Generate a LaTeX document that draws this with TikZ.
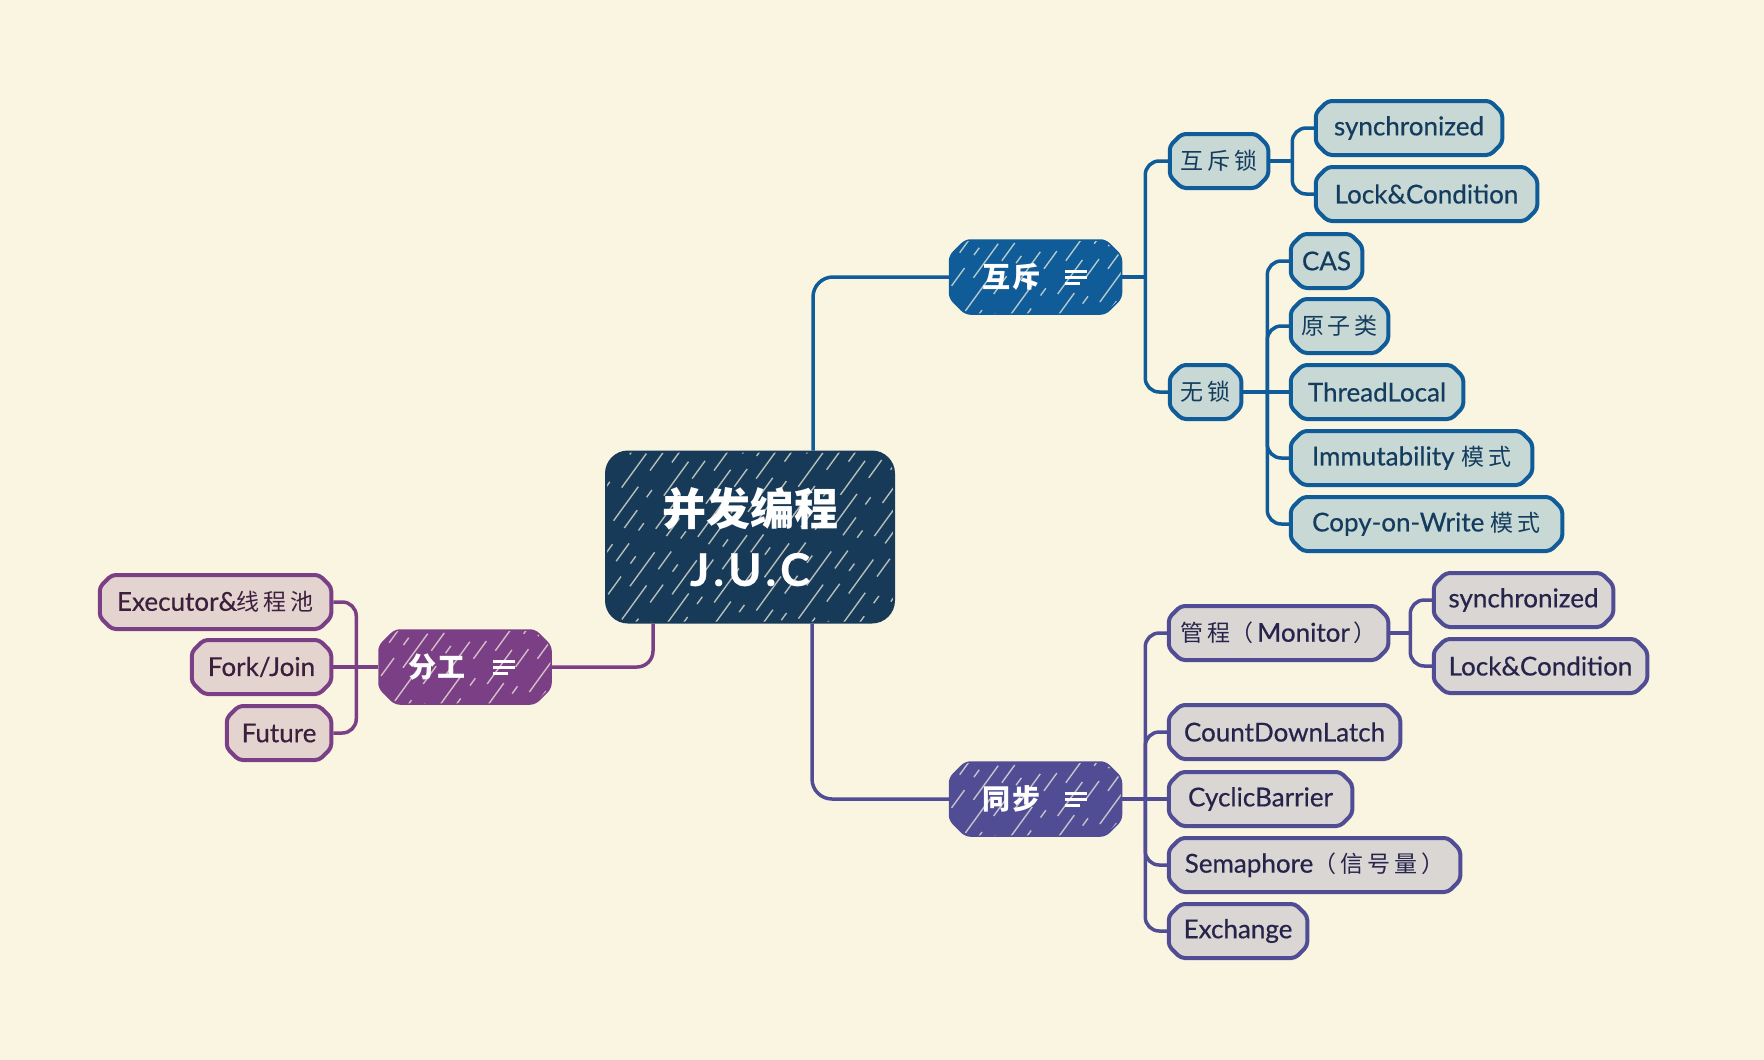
\documentclass[tikz,border=0pt]{standalone}
\usepackage{fontspec}
\setmainfont{Lato}[FakeBold=0.5]
\newfontfamily\cjk{Noto Sans CJK SC}
\usetikzlibrary{shapes.misc,calc}
\definecolor{bg}{HTML}{FAF5E1}
\definecolor{navy}{HTML}{163A57}
\definecolor{bblue}{HTML}{0F5C98}
\definecolor{bfill}{HTML}{C8D9D5}
\definecolor{btext}{HTML}{143C5E}
\definecolor{ind}{HTML}{504D95}
\definecolor{ifill}{HTML}{D9D6D3}
\definecolor{itext}{HTML}{27244C}
\definecolor{pur}{HTML}{7B3F85}
\definecolor{pfill}{HTML}{E3D4D0}
\definecolor{ptext}{HTML}{3C1F3C}
\newcommand\zh[1]{{\cjk\fontsize{23}{26}\selectfont #1}}
\newcommand\ls{\hspace{4pt}}
\newcommand\tls{\hspace{2pt}}
\tikzset{
  hatch/.style={path picture={
    \foreach \k in {0,...,30}{
      \pgfmathsetmacro\ph{mod(\k*41,113)}
      \draw[line width=1.4pt, bg, opacity=.7,
        dash pattern=on 22pt off 16pt on 9pt off 34pt on 42pt off 20pt, dash phase=\ph pt]
        ($(path picture bounding box.south west)+(\k*16pt-150pt,-5pt)$) -- ++(54:260pt);
    }}},
  leaf/.style={chamfered rectangle, chamfered rectangle xsep=6pt, chamfered rectangle ysep=6pt,
    line width=4pt, minimum height=54, inner sep=0pt, rounded corners=4pt,
    font=\fontsize{26}{30}\selectfont},
  bleaf/.style={leaf, draw=bblue, fill=bfill, text=btext, anchor=west},
  ileaf/.style={leaf, draw=ind, fill=ifill, text=itext, anchor=west},
  pleaf/.style={leaf, draw=pur, fill=pfill, text=ptext, anchor=east},
  topic/.style={chamfered rectangle, chamfered rectangle xsep=8pt, chamfered rectangle ysep=8pt,
    draw=#1, fill=#1, line width=1.5pt, minimum width=172, minimum height=74, inner sep=0pt,
    rounded corners=5pt, text=white, hatch, font=\cjk\bfseries\fontsize{28}{30}\selectfont},
  conn/.style={line width=3.5pt, rounded corners=14pt},
  icon/.style={white, line width=3pt}
}
\begin{document}
\begin{tikzpicture}[x=1pt,y=-1pt]
\fill[bg] (0,0) rectangle (1764,1060);
\useasboundingbox (0,0) rectangle (1764,1060);

% central
\node[draw=navy, fill=navy, line width=2pt, rounded corners=22pt, minimum width=288, minimum height=171,
  hatch, text=white, align=center, font=\fontsize{44}{60}\selectfont] (juc) at (750,537)
  {{\cjk\bfseries 并发编程}\\
   {\bfseries\fontsize{45}{60}\selectfont J\kern4pt.\kern4pt U\kern4pt.\kern4pt C}};

% topics
\node[topic=bblue] (hu) at (1035.5,277) {\makebox[107pt][l]{互\tls 斥}};
\node[topic=ind] (tb) at (1035.5,799) {\makebox[107pt][l]{同\tls 步}};
\node[topic=pur] (fg) at (465,667) {\makebox[114pt][l]{分\tls 工}};
\foreach \n/\o in {hu/29.5,tb/29.5,fg/28}{
  \draw[icon] ($(\n.center)+(\o,-6)$) -- ++(22,0);
  \draw[icon] ($(\n.center)+(\o,0)$) -- ++(22,0);
  \draw[icon] ($(\n.center)+(\o,6)$) -- ++(15,0);
}

% blue leaves
\node[bleaf, minimum width=98.5] (lockA) at (1167.75,161) {\zh{互\ls 斥\ls 锁}};
\node[bleaf, minimum width=71.5] (wusuo) at (1167.75,392) {\zh{无\ls 锁}};
\node[bleaf, minimum width=186.5] (syn1) at (1313.75,128) {synchronized};
\node[bleaf, minimum width=221.5] (lc1) at (1313.75,194) {Lock\&Condition};
\node[bleaf, minimum width=71.5] (cas) at (1288.75,261) {CAS};
\node[bleaf, minimum width=97.5] (yzl) at (1288.75,326) {\zh{原\ls 子\ls 类}};
\node[bleaf, minimum width=172.5] (tl) at (1288.75,392) {ThreadLocal};
\node[bleaf, minimum width=241.5] (imm) at (1288.75,458) {Immutability \zh{模\ls 式}};
\node[bleaf, minimum width=271.5] (cow) at (1288.75,524) {Copy-on-Write \zh{模\ls 式}};

% indigo leaves
\node[ileaf, minimum width=219.5] (monitor) at (1166.75,633) {\zh{管\ls 程（\ls}Monitor\zh{\ls ）}};
\node[ileaf, minimum width=179.5] (syn2) at (1431.75,600) {synchronized};
\node[ileaf, minimum width=213.5] (lc2) at (1431.75,666) {Lock\&Condition};
\node[ileaf, minimum width=231.5] (cdl) at (1166.75,732) {CountDownLatch};
\node[ileaf, minimum width=183.5] (cb) at (1166.75,799) {CyclicBarrier};
\node[ileaf, minimum width=291.5] (sem) at (1166.75,865) {Semaphore\zh{（\ls 信\ls 号\ls 量\ls ）}};
\node[ileaf, minimum width=138.5] (ex) at (1166.75,931) {Exchange};

% purple leaves
\node[pleaf, minimum width=231.5] (exe) at (333.25,602) {Executor\&\zh{线\ls 程\ls 池}};
\node[pleaf, minimum width=139.5] (fj) at (333.25,667) {Fork/Join};
\node[pleaf, minimum width=104.5] (fut) at (333.25,733) {Future};

% main connectors
\draw[conn, bblue, rounded corners=20pt] ($(juc.north)+(63,0)$) |- (hu.west);
\draw[conn, ind, rounded corners=20pt] ($(juc.south)+(62,0)$) |- (tb.west);
\draw[conn, pur, rounded corners=16pt] ($(juc.south)+(-97,0)$) |- (fg.east);

% junctions
\coordinate (jh) at ($(hu.east)+(23,0)$);
\coordinate (jl) at ($(lockA.east)+(22,0)$);
\coordinate (jw) at ($(wusuo.east)+(24,0)$);
\coordinate (js) at ($(tb.east)+(23,0)$);
\coordinate (jm) at ($(monitor.east)+(20,0)$);
\coordinate (jf) at ($(fg.west)+(-22,0)$);

% blue branch
\draw[conn, bblue] (hu.east) -- (jh);
\draw[conn, bblue] (lockA.west) -| (jh) |- (wusuo.west);
\draw[conn, bblue] (lockA.east) -- (jl);
\draw[conn, bblue] (syn1.west) -| (jl) |- (lc1.west);
\draw[conn, bblue] (wusuo.east) -- (tl.west);
\draw[conn, bblue] (cas.west) -| (jw) |- (cow.west);
\draw[conn, bblue] (yzl.west) -| (jw);
\draw[conn, bblue] (imm.west) -| (jw);

% indigo branch
\draw[conn, ind] (tb.east) -- (cb.west);
\draw[conn, ind] (monitor.west) -| (js) |- (ex.west);
\draw[conn, ind] (cdl.west) -| (js);
\draw[conn, ind] (sem.west) -| (js);
\draw[conn, ind] (monitor.east) -- (jm);
\draw[conn, ind] (syn2.west) -| (jm) |- (lc2.west);

% purple branch
\draw[conn, pur] (fg.west) -- (fj.east);
\draw[conn, pur] (exe.east) -| (jf) |- (fut.east);
\end{tikzpicture}
\end{document}
